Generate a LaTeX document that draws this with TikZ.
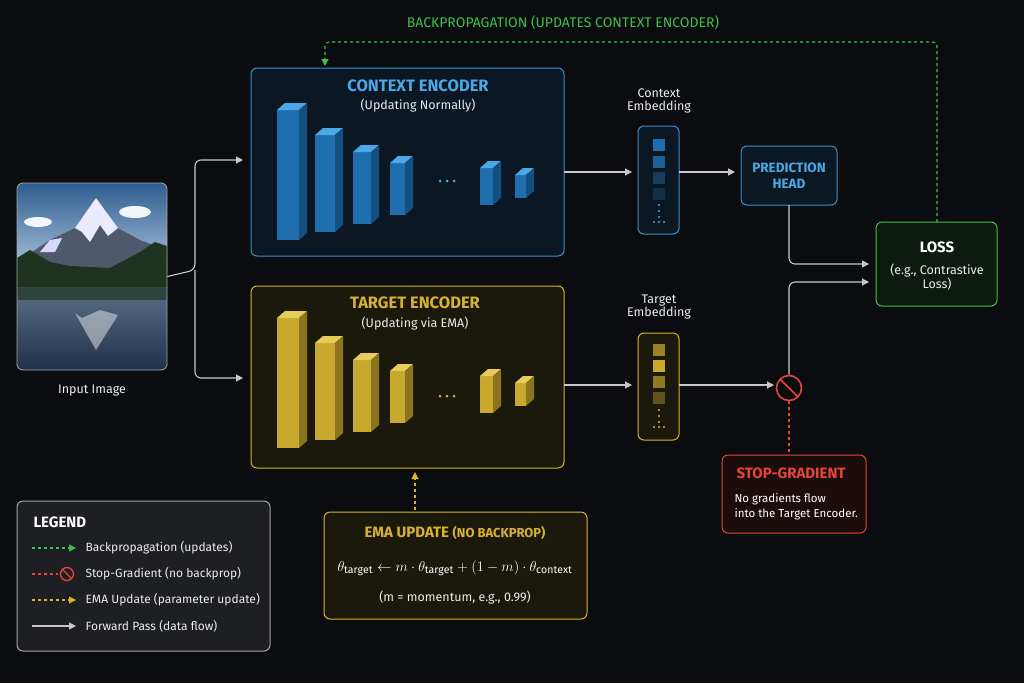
\documentclass[tikz,border=0pt]{standalone}
\usepackage{fontspec}
\setmainfont{Fira Sans}
\usetikzlibrary{arrows.meta,calc}
\definecolor{bg}{HTML}{0A0C0F}
\definecolor{cblue}{HTML}{3A8FC8}
\definecolor{tblue}{HTML}{4AA8E6}
\definecolor{fblue}{HTML}{0B1824}
\definecolor{cyel}{HTML}{D8B232}
\definecolor{fyel}{HTML}{1B190B}
\definecolor{cgreen}{HTML}{3EC04A}
\definecolor{fgreen}{HTML}{0E1A10}
\definecolor{cred}{HTML}{E5453A}
\definecolor{fred}{HTML}{1C0D0D}
\definecolor{cgray}{HTML}{C8C8C8}
\definecolor{bfront}{HTML}{1F6FAF}
\definecolor{btop}{HTML}{4AA8E6}
\definecolor{bside}{HTML}{154F80}
\definecolor{yfront}{HTML}{C9A82E}
\definecolor{ytop}{HTML}{E8CC5A}
\definecolor{yside}{HTML}{8A7420}
\definecolor{sky1}{HTML}{2F5C8F}
\definecolor{sky2}{HTML}{A9C4DD}
\definecolor{mnt}{HTML}{4E5A6C}
\definecolor{tree}{HTML}{1E3320}
\definecolor{lake1}{HTML}{5B7088}
\definecolor{lake2}{HTML}{1F3147}
\newcommand\mybar[7]{% x top bot w front topc side
  \fill[#5] (#1,#2) rectangle (#1+#4,#3);
  \fill[#6] (#1,#2) -- (#1+8,#2-7) -- (#1+#4+8,#2-7) -- (#1+#4,#2) -- cycle;
  \fill[#7] (#1+#4,#2) -- (#1+#4+8,#2-7) -- (#1+#4+8,#3-7) -- (#1+#4,#3) -- cycle;}
\tikzset{
  box/.style={rounded corners=6pt, line width=1pt},
  fwd/.style={draw=cgray, line width=1.1pt, -{Triangle[length=7pt,width=7pt]}, rounded corners=6pt},
  txt/.style={text=white!85!gray, font=\fontsize{12.5}{14.5}\selectfont, align=center},
  ltxt/.style={text=white!85!gray, font=\fontsize{12}{14}\selectfont, anchor=west},
}
\begin{document}
\begin{tikzpicture}[x=1pt,y=-1pt]
\fill[bg] (0,0) rectangle (1024,683);
\useasboundingbox (0,0) rectangle (1024,683);
% top label
\node[text=cgreen, font=\fontsize{14}{16}\selectfont] (bplabel) at (563,23) {BACKPROPAGATION (UPDATES CONTEXT ENCODER)};
% context encoder
\draw[box, draw=cblue, fill=fblue] (251,68) rectangle (564,256);
\node (ce) at (407.5,162) [minimum width=313pt, minimum height=188pt] {};
\node[text=tblue, font=\fontsize{16.5}{18}\selectfont\bfseries] at (418,86) {CONTEXT ENCODER};
\node[txt] at (418,106) {(Updating Normally)};
\mybar{277}{110}{240}{22}{bfront}{btop}{bside}
\mybar{315}{135}{232}{20}{bfront}{btop}{bside}
\mybar{353}{152}{224}{18}{bfront}{btop}{bside}
\mybar{390}{163}{215}{15}{bfront}{btop}{bside}
\foreach \x in {440,447,454} \fill[tblue] (\x,181) circle (1.5);
\mybar{480}{168}{205}{13}{bfront}{btop}{bside}
\mybar{515}{175}{198}{11}{bfront}{btop}{bside}
% target encoder
\draw[box, draw=cyel, fill=fyel] (251,286) rectangle (564,468);
\node (te) at (407.5,377) [minimum width=313pt, minimum height=182pt] {};
\node[text=cyel, font=\fontsize{16.5}{18}\selectfont\bfseries] at (415,303) {TARGET ENCODER};
\node[txt] at (415,324) {(Updating via EMA)};
\mybar{277}{318}{448}{22}{yfront}{ytop}{yside}
\mybar{315}{343}{440}{20}{yfront}{ytop}{yside}
\mybar{353}{360}{432}{18}{yfront}{ytop}{yside}
\mybar{390}{371}{423}{15}{yfront}{ytop}{yside}
\foreach \x in {440,447,454} \fill[cyel] (\x,396) circle (1.5);
\mybar{480}{376}{413}{13}{yfront}{ytop}{yside}
\mybar{515}{383}{406}{11}{yfront}{ytop}{yside}
% input image
\begin{scope}
\clip[rounded corners=6pt] (17,183) rectangle (167,370);
\shade[top color=sky1, bottom color=sky2] (17,183) rectangle (167,270);
\fill[white!85!sky2] (135,212) ellipse (16 and 6);
\fill[white!85!sky2] (38,222) ellipse (14 and 5);
\fill[mnt] (17,262) -- (50,240) -- (75,228) -- (96,198) -- (118,228) -- (140,240) -- (167,250) -- (167,275) -- (17,275) -- cycle;
\fill[white!92!blue] (96,198) -- (118,228) -- (108,236) -- (100,225) -- (90,242) -- (82,232) -- (75,228) -- cycle;
\fill[white!85!blue] (50,240) -- (62,238) -- (55,252) -- (40,252) -- cycle;
\fill[tree] (17,258) -- (30,250) -- (50,262) -- (70,266) -- (110,268) -- (140,252) -- (155,242) -- (167,246) -- (167,290) -- (17,290) -- cycle;
\shade[top color=lake1, bottom color=lake2] (17,287) rectangle (167,370);
\fill[white!70!lake1, opacity=.6] (96,350) -- (118,315) -- (100,310) -- (82,318) -- (75,313) -- cycle;
\fill[tree, opacity=.7] (17,287) rectangle (167,300);
\end{scope}
\draw[gray!70, rounded corners=6pt, line width=.8pt] (17,183) rectangle (167,370);
\node (img) at (92,276.5) [minimum width=150pt, minimum height=187pt] {};
\node[txt] at (92,391) {Input Image};
% forward arrows from image
\coordinate (fk) at (195,270);
\draw[fwd] (img.east) -- (fk) |- (243,160);
\draw[fwd] (fk) |- (243,378);
% context embedding
\node[txt] at (659,101) {Context\\[-2pt]Embedding};
\draw[box, draw=cblue, fill=fblue] (638,126) rectangle (679,234);
\node (cemb) at (658.5,180) [minimum width=41pt, minimum height=108pt] {};
\foreach \y/\c in {139/100,156/85,172/50,188/35} \fill[bfront!\c!bg] (653,\y) rectangle (665,\y+12);
\foreach \y in {205,211,217} \fill[tblue] (659,\y) circle (1.1);
\foreach \x in {654,659,664} \fill[tblue] (\x,222) circle (1.1);
% target embedding
\node[txt] at (659,307) {Target\\[-2pt]Embedding};
\draw[box, draw=cyel, fill=fyel] (638,333) rectangle (679,440);
\node (temb) at (658.5,386.5) [minimum width=41pt, minimum height=107pt] {};
\foreach \y/\c in {344/75,360/100,376/70,392/45} \fill[yfront!\c!bg] (653,\y) rectangle (665,\y+12);
\foreach \y in {410,416,422} \fill[cyel] (659,\y) circle (1.1);
\foreach \x in {654,659,664} \fill[cyel] (\x,427) circle (1.1);
% arrows to embeddings
\draw[fwd] (564,172) -- (632,172);
\draw[fwd] (564,385) -- (632,385);
% prediction head
\draw[box, draw=cblue, fill=fblue] (741,146) rectangle (837,205);
\node[text=tblue, font=\fontsize{13.5}{16}\selectfont\bfseries, align=center] (ph) at (789,175.5) {PREDICTION\\HEAD};
\draw[fwd] (679,172) -- (735,172);
% stop circle
\node[draw=cred, circle, line width=1.6pt, minimum size=25pt, inner sep=0] (stop) at (789,388) {};
\draw[cred, line width=1.6pt] (780,379) -- (798,397);
\draw[fwd] (679,385) -- (774,385);
% loss
\draw[box, draw=cgreen, fill=fgreen] (876,222) rectangle (997,306);
\node (loss) at (936.5,264) [minimum width=121pt, minimum height=84pt] {};
\node[text=white, font=\fontsize{15}{17}\selectfont\bfseries] at (937,247) {LOSS};
\node[txt] at (937,277) {(e.g., Contrastive\\[-1pt]Loss)};
\draw[fwd] (789,205) |- (869,264);
\draw[fwd] (stop.north) |- (869,282);
% backprop green
\draw[cgreen, line width=1.1pt, dash pattern=on 3pt off 3pt, rounded corners=4pt, -{Triangle[length=7pt,width=7pt]}] (937,222) -- (937,42) -- (325,42) -- (325,66);
% stop gradient box
\draw[box, draw=cred, fill=fred] (722,455) rectangle (866,533);
\node (sg) at (794,494) [minimum width=144pt, minimum height=78pt] {};
\draw[cred, line width=1.1pt, dash pattern=on 3pt off 3pt] (stop.south) -- (789,455);
\node[text=cred, font=\fontsize{15}{17}\selectfont\bfseries, anchor=west] at (733,473) {STOP-GRADIENT};
\node[text=white, font=\fontsize{11.5}{15}\selectfont, align=left, anchor=west] at (731,507) {No gradients flow\\into the Target Encoder.};
% EMA box
\draw[box, draw=cyel, fill=fyel] (324,512) rectangle (587,619);
\node (ema) at (455.5,565.5) [minimum width=263pt, minimum height=107pt] {};
\node[text=cyel, font=\fontsize{15}{17}\selectfont\bfseries] at (455,533) {EMA UPDATE {\fontsize{13}{15}\selectfont(NO BACKPROP)}};
\node[text=white, font=\fontsize{15}{17}\selectfont] at (455,568) {$\theta_{\mathrm{target}} \leftarrow m\cdot\theta_{\mathrm{target}} + (1-m)\cdot\theta_{\mathrm{context}}$};
\node[txt] at (455,598) {(m = momentum, e.g., 0.99)};
\draw[cyel, line width=1.1pt, dash pattern=on 3pt off 3pt, -{Triangle[length=7pt,width=7pt]}] (415,510) -- (415,472);
% legend
\draw[box, draw=gray!70, fill=bg!92!white] (17,501) rectangle (270,651);
\node (leg) at (143.5,576) [minimum width=253pt, minimum height=150pt] {};
\node[text=white, font=\fontsize{15}{17}\selectfont\bfseries, anchor=west] at (30,522) {LEGEND};
\draw[cgreen, line width=1.1pt, dash pattern=on 3pt off 3pt, -{Triangle[length=7pt,width=7pt]}] (32,548) -- (76,548);
\node[ltxt] at (82,548) {Backpropagation (updates)};
\draw[cred, line width=1.1pt, dash pattern=on 3pt off 3pt] (32,574) -- (58,574);
\draw[cred, line width=1.3pt] (67,574) circle (6.5);
\draw[cred, line width=1.3pt] (62.5,569.5) -- (71.5,578.5);
\node[ltxt] at (82,574) {Stop-Gradient (no backprop)};
\draw[cyel, line width=1.1pt, dash pattern=on 3pt off 3pt, -{Triangle[length=7pt,width=7pt]}] (32,600) -- (76,600);
\node[ltxt] at (82,600) {EMA Update (parameter update)};
\draw[fwd] (32,626) -- (76,626);
\node[ltxt] at (82,626) {Forward Pass (data flow)};
\end{tikzpicture}
\end{document}
